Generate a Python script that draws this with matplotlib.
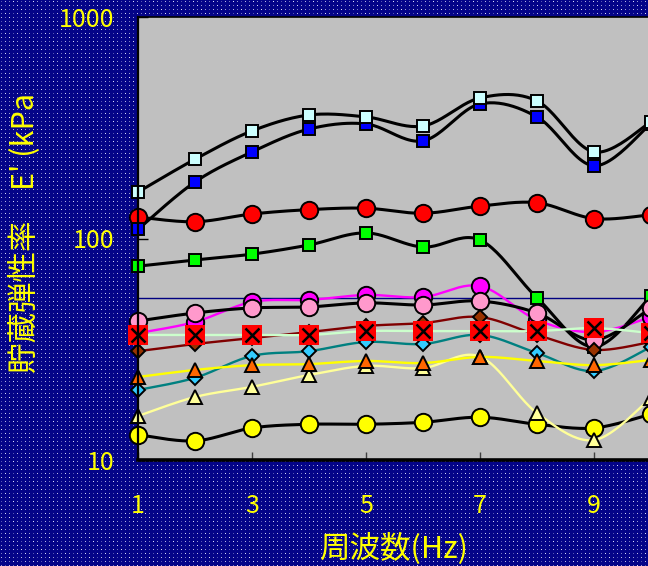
import numpy as np
import matplotlib
matplotlib.use("Agg")
import matplotlib.pyplot as plt
from matplotlib.ticker import NullLocator, FixedLocator, FixedFormatter

plt.rcParams['font.family'] = ['Noto Sans CJK JP', 'DejaVu Sans']

# ---- data -------------------------------------------------------------
freq = [1, 2, 3, 4, 5, 6, 7, 8, 9, 10]
x_ticks = [1, 3, 5, 7, 9]
x_tick_labels = ['1', '3', '5', '7', '9']
y_ticks = [10, 100, 1000]
y_tick_labels = ['10', '100', '1000']
x_label = '周波数(Hz)'
y_label = "貯蔵弾性率　E' (kPa"
ref_level = 53.9

e_red_circle = [125, 119, 129, 135, 137, 130, 140, 145, 123, 128]
e_green_square = [75, 80, 85, 93.5, 106, 91.5, 98.5, 54, 32.4, 55]
e_blue_square = [110, 180, 246, 312, 329, 276, 405, 354, 213, 330]
e_light_square = [162, 228, 306, 361, 354, 322, 431, 418, 246, 336]
e_magenta_circle = [37.4, 42.0, 51.7, 52.8, 55.6, 54.4, 61.0, 42.9, 37.8, 44.2]
e_pink_circle = [42.4, 46.1, 48.6, 49.1, 51.2, 50.1, 52.2, 46.1, 34.8, 48.6]
e_brown_diamond = [31.0, 33.4, 35.5, 37.8, 40.3, 41.5, 44.2, 36.7, 31.4, 34.1]
e_cyan_diamond = [20.7, 23.5, 29.5, 31.0, 34.1, 33.4, 36.7, 30.4, 25.2, 32.4]
e_yellow_circle = [13.0, 12.2, 13.95, 14.5, 14.5, 14.8, 15.6, 14.5, 13.95, 16.1]
e_pale_triangle = [15.8, 19.25, 21.4, 24.2, 26.6, 26.0, 29.3, 16.3, 12.3, 19.05]
e_orange_triangle = [23.7, 25.5, 26.8, 27.1, 28.0, 27.4, 29.2, 28.0, 26.8, 28.3]
e_red_cross = [36.7, 36.7, 36.7, 36.7, 38.2, 38.2, 38.2, 38.2, 39.4, 37.4]

# ---- helpers ------------------------------------------------------------
def smooth_curve(x, y, n=24):
    """Catmull-Rom curve through the points, built in (x, log10 y) space."""
    x = np.asarray(x, float)
    ly = np.log10(np.asarray(y, float))
    px = np.concatenate([[x[0]], x, [x[-1]]])
    py = np.concatenate([[ly[0]], ly, [ly[-1]]])
    t = np.linspace(0, 1, n, endpoint=False)
    xs, ys = [], []
    for i in range(len(x) - 1):
        p0, p1, p2, p3 = px[i:i + 4]
        q0, q1, q2, q3 = py[i:i + 4]
        for (a0, a1, a2, a3, out) in ((p0, p1, p2, p3, xs), (q0, q1, q2, q3, ys)):
            out.append(0.5 * (2 * a1 + (-a0 + a2) * t
                              + (2 * a0 - 5 * a1 + 4 * a2 - a3) * t ** 2
                              + (-a0 + 3 * a1 - 3 * a2 + a3) * t ** 3))
    xs = np.concatenate(xs + [[x[-1]]])
    ys = np.concatenate(ys + [[ly[-1]]])
    return xs, 10 ** ys


W, H = 648, 566
fig = plt.figure(figsize=(W / 100, H / 100), dpi=100)
fig.patch.set_facecolor('#000080')

# dotted navy backdrop: a 4-pixel lattice of pale dots of varying strength
bg = np.zeros((H, W, 3), dtype=float)
bg[:] = np.array([4, 4, 136]) / 255
rows = np.arange(H)[:, None]
cols = np.arange(W)[None, :]
lattice = (cols % 4 == 1) & (rows % 4 == 1)
level = ((rows // 4) * 2 + (cols // 4) * 3) % 5
strength = np.where(lattice, 0.35 + 0.15 * level, 0.0)
dot_rgb = np.array([235, 235, 255]) / 255
bg = bg * (1 - strength[..., None]) + dot_rgb * strength[..., None]
fig.figimage(bg, xo=0, yo=0, zorder=-10)

ax = fig.add_axes([138 / W, 1 - 460 / H, 1 - 138 / W, (460 - 17) / H])
ax.set_facecolor('#C0C0C0')
ax.set_yscale('log')
ax.set_ylim(10, 1000)
ax.set_xlim(1, 1 + (W - 138) / 57.0)

ax.axhline(ref_level, color='#000080', lw=1.0, zorder=1.5)

series = [
    (e_red_circle, 'o', '#FF0000', 'black', 12.5, 2.2),
    (e_green_square, 's', '#00FF00', 'black', 9, 2.2),
    (e_blue_square, 's', '#0000FF', 'black', 9, 2.2),
    (e_light_square, 's', '#CCFFFF', 'black', 9, 2.2),
    (e_magenta_circle, 'o', '#FF00FF', '#FF00FF', 12.5, 1.7),
    (e_pink_circle, 'o', '#FF99CC', 'black', 12.5, 2.2),
    (e_brown_diamond, 'D', '#993300', '#800000', 7.5, 1.7),
    (e_cyan_diamond, 'D', '#33CCFF', '#008080', 7.5, 1.7),
    (e_yellow_circle, 'o', '#FFFF00', 'black', 12.5, 2.2),
    (e_pale_triangle, '^', '#FFFF99', '#FFFF99', 9.5, 1.7),
    (e_orange_triangle, '^', '#FF6600', '#FFFF00', 9.5, 1.7),
]

z = 2
for vals, mk, fill, line_c, ms, lw in series:
    sx, sy = smooth_curve(freq, vals)
    ax.plot(sx, sy, color=line_c, lw=lw, zorder=z, solid_capstyle='round')
    ax.plot(freq, vals, ls='none', marker=mk, ms=ms, mfc=fill, mec='black',
            mew=1.4, zorder=z + 0.5, clip_on=False)
    z += 1

# red square markers with a black cross
sx, sy = smooth_curve(freq, e_red_cross)
ax.plot(sx, sy, color='#CCFFCC', lw=1.7, zorder=z)
ax.plot(freq, e_red_cross, ls='none', marker='s', ms=15, mfc='#FF0000',
        mec='#FF0000', mew=0, zorder=z + 0.4, clip_on=False)
ax.plot(freq, e_red_cross, ls='none', marker='x', ms=10.5, mec='black',
        mew=1.8, zorder=z + 0.5, clip_on=False)

# axes frame and ticks
ax.spines['right'].set_visible(False)
ax.spines['left'].set_linewidth(1.6)
ax.spines['top'].set_linewidth(1.2)
ax.spines['bottom'].set_linewidth(2.6)
for s in ax.spines.values():
    s.set_color('black')
    s.set_zorder(30)

ax.xaxis.set_major_locator(FixedLocator(x_ticks))
ax.xaxis.set_major_formatter(FixedFormatter(x_tick_labels))
ax.yaxis.set_major_locator(FixedLocator(y_ticks))
ax.yaxis.set_major_formatter(FixedFormatter(y_tick_labels))
ax.xaxis.set_minor_locator(NullLocator())
ax.yaxis.set_minor_locator(NullLocator())

ax.tick_params(axis='x', direction='in', length=6, width=1, color='#404040',
               labelcolor='#FFFF00', labelsize=18, pad=24)
ax.tick_params(axis='y', direction='in', length=7, width=1, color='black',
               labelcolor='#FFFF00', labelsize=18, pad=17)

fig.text(394 / W, 1 - 549 / H, x_label, color='#FFFF00', fontsize=22,
         ha='center', va='center')
fig.text(25 / W, 1 - 233 / H, y_label, color='#FFFF00', fontsize=22,
         rotation=90, ha='center', va='center')

fig.savefig('out.png', dpi=100, facecolor=fig.get_facecolor())
